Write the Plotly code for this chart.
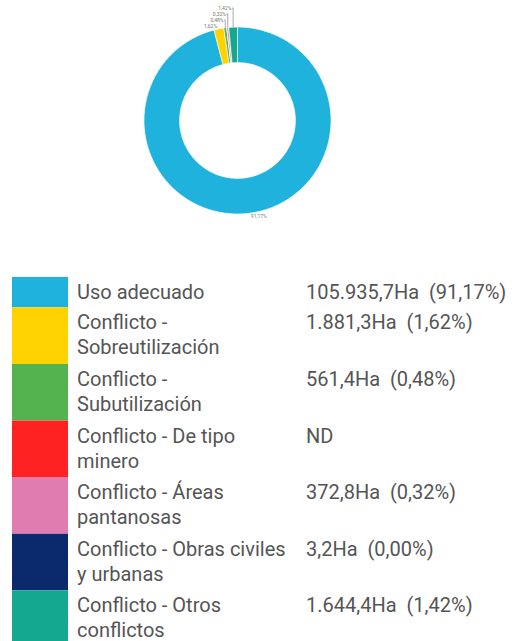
import plotly.graph_objects as go

# --- data ---
categories = [
    "Uso adecuado",
    "Conflicto - Sobreutilización",
    "Conflicto - Subutilización",
    "Conflicto - De tipo minero",
    "Conflicto - Áreas pantanosas",
    "Conflicto - Obras civiles y urbanas",
    "Conflicto - Otros conflictos",
]
legend_lines = [
    ["Uso adecuado"],
    ["Conflicto -", "Sobreutilización"],
    ["Conflicto -", "Subutilización"],
    ["Conflicto - De tipo", "minero"],
    ["Conflicto - Áreas", "pantanosas"],
    ["Conflicto - Obras civiles", "y urbanas"],
    ["Conflicto - Otros", "conflictos"],
]
area_ha = [105935.7, 1881.3, 561.4, None, 372.8, 3.2, 1644.4]
percent = [91.17, 1.62, 0.48, None, 0.32, 0.00, 1.42]
colors = ["#1fb2dc", "#ffd200", "#55b34f", "#ff2222", "#e07cb0", "#0b2a6e", "#14a98e"]

W, H = 514, 641


def es_num(v, dec):
    s = format(v, ",.%df" % dec)
    return s.replace(",", "X").replace(".", ",").replace("X", ".")


def px(x):
    return x / W


def py(y):
    return 1 - y / H


slice_text = [es_num(p, 2) + "%" if p else "" for p in percent]

fig = go.Figure()

fig.add_trace(go.Pie(
    labels=categories,
    values=[v or 0 for v in area_ha],
    text=slice_text,
    textinfo="text",
    textposition="outside",
    textfont=dict(size=5, color="#777777", family="Roboto"),
    hole=0.62,
    sort=False,
    direction="clockwise",
    rotation=0,
    marker=dict(colors=colors, line=dict(color="white", width=0.6)),
    showlegend=False,
    hoverinfo="label+value",
    domain=dict(x=[px(144), px(331)], y=[py(214), py(27)]),
))

# --- custom legend table ---
font = dict(family="Roboto", size=20, color="#555555")
line_h = 25
top = 277
for i, lines in enumerate(legend_lines):
    h = 4 + 26.3 * len(lines)
    fig.add_shape(type="rect", xref="paper", yref="paper",
                  x0=px(12), x1=px(68), y0=py(top + h), y1=py(top),
                  fillcolor=colors[i], line=dict(width=0), layer="above")
    for j, line in enumerate(lines):
        fig.add_annotation(x=px(75), y=py(top + 15 + line_h * j), xref="paper", yref="paper",
                           text=line, showarrow=False, xanchor="left", yanchor="middle",
                           font=font)
    if area_ha[i] is None:
        val = "ND"
    else:
        val = es_num(area_ha[i], 1) + "Ha  (" + es_num(percent[i], 2) + "%)"
    fig.add_annotation(x=px(304), y=py(top + 15), xref="paper", yref="paper",
                       text=val, showarrow=False, xanchor="left", yanchor="middle",
                       font=font)
    top += h

fig.update_layout(
    width=W, height=H,
    margin=dict(l=0, r=0, t=0, b=0),
    paper_bgcolor="white",
    plot_bgcolor="white",
)

fig.write_html("out.html", config={"displayModeBar": False},
               post_script="document.body.style.margin='0px';document.body.style.overflow='hidden';")
